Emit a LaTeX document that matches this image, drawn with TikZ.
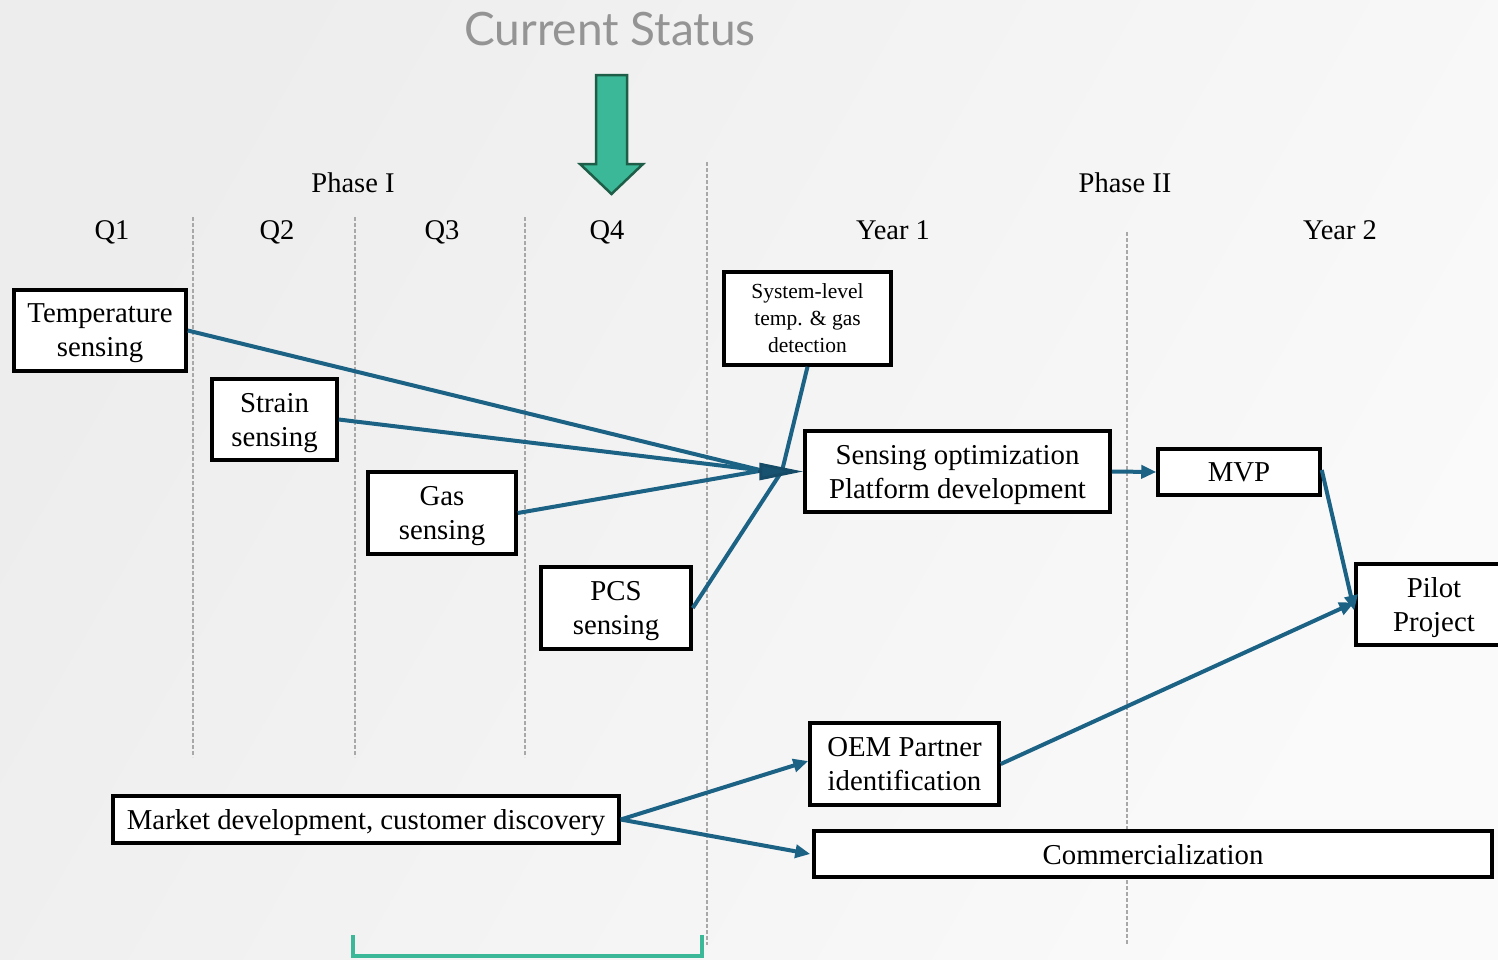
\documentclass[tikz,border=0pt]{standalone}
\usepackage{fontspec}
\setmainfont{Liberation Serif}
\newfontfamily\latof{Lato}
\usetikzlibrary{arrows.meta}
\definecolor{conn}{HTML}{1B6285}
\definecolor{connd}{HTML}{154B66}
\definecolor{teal}{HTML}{3BB897}
\definecolor{tealdark}{HTML}{1E5E48}
\definecolor{dashgray}{HTML}{A8A8A8}
\definecolor{bgA}{HTML}{EDEDED}
\definecolor{bgB}{HTML}{FAFAFA}
\tikzset{
  box/.style={draw=black, line width=3.5pt, fill=white, align=center, inner sep=0pt,
    text depth=-6pt, font=\fontsize{28.8}{34}\selectfont},
  smallbox/.style={box, font=\fontsize{21.5}{27}\selectfont},
  lbl/.style={font=\fontsize{28.5}{34}\selectfont, anchor=base, inner sep=0pt},
  conline/.style={draw=conn, line width=4pt},
  conarrow/.style={conline, -{Triangle[length=15pt,width=13pt]}},
  divider/.style={draw=dashgray, line width=1.5pt, dash pattern=on 4pt off 2pt}
}
\begin{document}
\begin{tikzpicture}[x=1pt,y=-1pt]
\useasboundingbox (0,0) rectangle (1498,959);
% background
\shade[left color=bgA, right color=bgB, shading angle=60] (0,0) rectangle (1498,959);

% title
\node[font=\latof\fontsize{46}{52}\selectfont, text=black!42, inner sep=0pt] (title) at (610,29) {Current Status};

% status arrow
\draw[fill=teal, draw=tealdark, line width=2.5pt, line join=miter]
  (596,75) -- (627,75) -- (627,164) -- (643,164) -- (611.5,194) -- (580,164) -- (596,164) -- cycle;

% dividers
\draw[divider] (193,217) -- (193,757);
\draw[divider] (355,217) -- (355,757);
\draw[divider] (525,217) -- (525,757);
\draw[divider] (707,162) -- (707,945);
\draw[divider] (1127,232) -- (1127,945);

% headers
\node[lbl] (ph1) at (353,192) {Phase I};
\node[lbl] (ph2) at (1125,192) {Phase II};
\node[lbl] (q1) at (112,239) {Q1};
\node[lbl] (q2) at (277,239) {Q2};
\node[lbl] (q3) at (442,239) {Q3};
\node[lbl] (q4) at (607,239) {Q4};
\node[lbl] (y1) at (893,239) {Year 1};
\node[lbl] (y2) at (1340,239) {Year 2};

% boxes
\node[box, minimum width=172pt, minimum height=81pt] (temp) at (100,330.5) {Temperature\\sensing};
\node[box, minimum width=125pt, minimum height=81pt] (strain) at (274.5,419.5) {Strain\\sensing};
\node[box, minimum width=148pt, minimum height=82pt] (gas) at (442,513) {Gas\\sensing};
\node[box, minimum width=150pt, minimum height=82pt] (pcs) at (616,608) {PCS\\sensing};
\node[smallbox, minimum width=167pt, minimum height=93pt] (sys) at (807.5,318.5) {System-level\\temp. \& gas\\detection};
\node[box, minimum width=305pt, minimum height=81pt] (opt) at (957.5,471.5) {Sensing optimization\\Platform development};
\node[box, minimum width=162pt, minimum height=46pt] (mvp) at (1239,472) {MVP};
\node[box, minimum width=156pt, minimum height=81pt] (pilot) at (1434,604.5) {Pilot\\Project};
\node[box, minimum width=189pt, minimum height=82pt] (oem) at (904.5,764) {OEM Partner\\identification};
\node[box, minimum width=506pt, minimum height=47pt] (market) at (366,819.5) {Market development, customer discovery};
\node[box, minimum width=678pt, minimum height=46pt] (comm) at (1153,854) {Commercialization};

% convergence points
\coordinate (convL) at (762,470.5);
\coordinate (convM) at (782,471);
\coordinate (convA) at (758,471.5);

\draw[conline] (temp.east) -- (convL);
\draw[conline] (strain.east) -- (convL);
\draw[conline] (gas.east) -- (convL);
\draw[conline] (sys.south) -- (convM);
\draw[conline] (pcs.east) -- (convM);
\draw[draw=connd, line width=3pt, -{Triangle[length=44pt,width=17pt,fill=conn!85!black]}] (convA) -- (opt.west);

\draw[conarrow] (opt.east) -- (mvp.west);
\draw[conarrow] ([yshift=2pt]mvp.east) -- ([yshift=-6pt]pilot.west);
\draw[conarrow] (oem.east) -- ([yshift=2pt]pilot.west);
\draw[conarrow] (market.east) -- ([yshift=3pt]oem.west);
\draw[conarrow] (market.east) -- ([xshift=-2pt]comm.west);

% bracket
\draw[draw=teal, line width=4pt] (353,935) -- (353,956) -- (702,956) -- (702,935);
\end{tikzpicture}
\end{document}
